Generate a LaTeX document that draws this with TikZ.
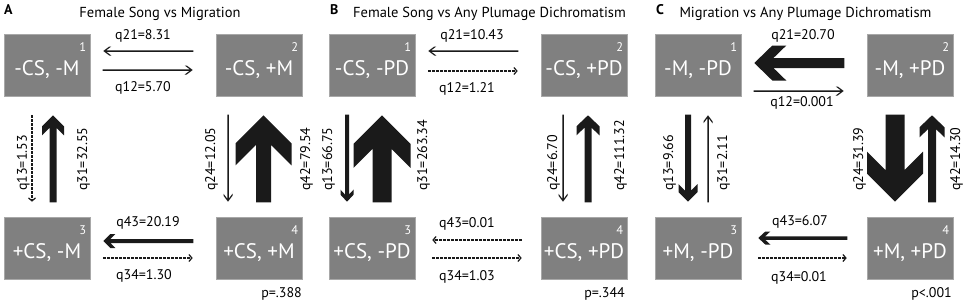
\documentclass[tikz,border=0pt]{standalone}
\usepackage{fontspec}
\setmainfont{PT Sans}
\usetikzlibrary{calc,arrows.meta}
\definecolor{boxgray}{HTML}{808080}
\definecolor{boxedge}{HTML}{A8A8A8}
\definecolor{ink}{HTML}{1A1A1A}
% #1 tip coordinate, #2 angle, #3 length, #4 shaft width, #5 head half-width, #6 head length, #7 barb thickness
\newcommand\farr[7]{\fill[ink,shift={(#1)},rotate=#2] (0,0) -- (-#6,#5) -- ({-#6-#7},#5) -- ({-#7-#6*#4/(2*#5)},{#4/2}) -- (-#3,{#4/2}) -- (-#3,{-#4/2}) -- ({-#7-#6*#4/(2*#5)},{-#4/2}) -- ({-#6-#7},-#5) -- (-#6,-#5) -- cycle;}
\tikzset{
  state/.style={draw=boxedge,line width=0.6pt,fill=boxgray,minimum width=86pt,minimum height=62pt,inner sep=0pt},
  stxt/.style={text=white,anchor=base,inner sep=0pt,font=\fontsize{21}{24}\selectfont},
  snum/.style={text=white,anchor=base east,inner sep=0pt,font=\fontsize{12.5}{14}\selectfont},
  lab/.style={anchor=base,inner sep=0pt,font=\fontsize{14}{16}\selectfont},
  vlab/.style={anchor=base west,rotate=90,inner sep=0pt,font=\fontsize{14}{16}\selectfont},
  ttl/.style={anchor=base,inner sep=0pt,font=\fontsize{14.5}{17}\selectfont},
  letter/.style={anchor=base west,inner sep=0pt,font=\fontsize{14}{16}\selectfont\bfseries},
  pval/.style={anchor=base east,inner sep=0pt,font=\fontsize{14}{16}\selectfont},
  dotarr/.style={draw=ink,line width=1.3pt,dash pattern=on 2.4pt off 1.6pt,-{Straight Barb[length=3pt,width=7pt,line width=1.2pt]}}
}
\begin{document}
\begin{tikzpicture}[x=1pt,y=-1pt]
\useasboundingbox[fill=white] (0,0) rectangle (964,301);
% ---------------- boxes ----------------
\foreach \p/\ox in {a/0,b/325,c/651}{
  \node[state] (\p1) at (47+\ox,65) {};
  \node[state] (\p2) at (259+\ox,65) {};
  \node[state] (\p3) at (47+\ox,248) {};
  \node[state] (\p4) at (259+\ox,248) {};
  \foreach \k in {1,2,3,4}{
    \node[snum] (\p\k n) at ($(\p\k.north east)+(-4,18)$) {\k};
  }
}
% box texts
\node[stxt] (a1t) at ($(a1.center)+(0,10.5)$) {-CS, -M};
\node[stxt] (a2t) at ($(a2.center)+(0,10.5)$) {-CS, +M};
\node[stxt] (a3t) at ($(a3.center)+(0,10.5)$) {+CS, -M};
\node[stxt] (a4t) at ($(a4.center)+(0,10.5)$) {+CS, +M};
\node[stxt] (b1t) at ($(b1.center)+(0,10.5)$) {-CS, -PD};
\node[stxt] (b2t) at ($(b2.center)+(0,10.5)$) {-CS, +PD};
\node[stxt] (b3t) at ($(b3.center)+(0,10.5)$) {+CS, -PD};
\node[stxt] (b4t) at ($(b4.center)+(0,10.5)$) {+CS, +PD};
\node[stxt] (c1t) at ($(c1.center)+(0,10.5)$) {-M, -PD};
\node[stxt] (c2t) at ($(c2.center)+(0,10.5)$) {-M, +PD};
\node[stxt] (c3t) at ($(c3.center)+(0,10.5)$) {+M, -PD};
\node[stxt] (c4t) at ($(c4.center)+(0,10.5)$) {+M, +PD};
% titles
\node[letter] (la) at (4,14) {A};
\node[letter] (lb) at (330,14) {B};
\node[letter] (lc) at (656,14) {C};
\node[ttl] (ta) at (160,17) {Female Song vs Migration};
\node[ttl] (tb) at (489.5,17) {Female Song vs Any Plumage Dichromatism};
\node[ttl] (tc) at (805.5,17) {Migration vs Any Plumage Dichromatism};
% ---------------- panel A ----------------
\coordinate (a21t) at ($(a1.east)+(13,-14)$);  \farr{a21t}{180}{90}{1.5}{4.5}{6}{2}
\coordinate (a12t) at ($(a2.west)+(-23,5)$);   \farr{a12t}{0}{90}{1.5}{4.5}{6}{2}
\coordinate (a13s) at ($(a1.south)+(-15,19)$);
\coordinate (a13t) at ($(a3.north)+(-15,-15)$); \draw[dotarr] (a13s) -- (a13t);
\coordinate (a31t) at ($(a1.south)+(6,19)$);   \farr{a31t}{90}{87}{7}{11}{11}{9}
\coordinate (a24t) at ($(a4.north)+(-31,-15)$); \farr{a24t}{-90}{87}{1.5}{4.5}{6}{2}
\coordinate (a42t) at ($(a2.south)+(4.5,19)$); \farr{a42t}{90}{87}{15}{28}{28}{22}
\coordinate (a43t) at ($(a3.east)+(13,-7)$);   \farr{a43t}{180}{90}{4}{7}{7}{5}
\coordinate (a34s) at ($(a3.east)+(13,10)$);
\coordinate (a34t) at ($(a4.west)+(-23,10)$);  \draw[dotarr] (a34s) -- (a34t);
\node[lab] (qa21) at (143,39) {q21=8.31};
\node[lab] (qa12) at (143,91) {q12=5.70};
\node[lab] (qa43) at (148,226) {q43=20.19};
\node[lab] (qa34) at (144,279) {q34=1.30};
\node[vlab] (qa13) at (27,191) {q13=1.53};
\node[vlab] (qa31) at (87,191) {q31=32.55};
\node[vlab] (qa24) at (215,191) {q24=12.05};
\node[vlab] (qa42) at (310,191) {q42=79.54};
\node[pval] (pa) at (302,297) {p=.388};
% ---------------- panel B ----------------
\coordinate (b21t) at ($(b1.east)+(13,-14)$);  \farr{b21t}{180}{90}{1.5}{4.5}{6}{2}
\coordinate (b12s) at ($(b1.east)+(13,6)$);
\coordinate (b12t) at ($(b2.west)+(-23,6)$);   \draw[dotarr] (b12s) -- (b12t);
\coordinate (b13t) at ($(b3.north)+(-25,-15)$); \farr{b13t}{-90}{87}{4}{6.5}{7}{5}
\coordinate (b31t) at ($(b1.south)+(10,19)$);  \farr{b31t}{90}{87}{19}{28.5}{28.5}{24}
\coordinate (b24t) at ($(b4.north)+(-21,-15)$); \farr{b24t}{-90}{87}{1.5}{4.5}{6}{2}
\coordinate (b42t) at ($(b2.south)+(4,19)$);   \farr{b42t}{90}{87}{7}{11.5}{11}{9}
\coordinate (b43s) at ($(b4.west)+(-19,-8)$);
\coordinate (b43t) at ($(b3.east)+(17,-8)$);   \draw[dotarr] (b43s) -- (b43t);
\coordinate (b34s) at ($(b3.east)+(17,10)$);
\coordinate (b34t) at ($(b4.west)+(-19,10)$);  \draw[dotarr] (b34s) -- (b34t);
\node[lab] (qb21) at (472,39) {q21=10.43};
\node[lab] (qb12) at (467,92) {q12=1.21};
\node[lab] (qb43) at (467,227) {q43=0.01};
\node[lab] (qb34) at (467,280) {q34=1.03};
\node[vlab] (qb13) at (332,191) {q13=66.75};
\node[vlab] (qb31) at (427,191) {q31=263.34};
\node[vlab] (qb24) at (557,191) {q24=6.70};
\node[vlab] (qb42) at (624,191) {q42=111.32};
\node[pval] (pb) at (625,297) {p=.344};
% ---------------- panel C ----------------
\coordinate (c21t) at ($(c1.east)+(13,-2)$);   \farr{c21t}{180}{90}{10}{17.5}{18}{14}
\coordinate (c12t) at ($(c2.west)+(-23,26)$);  \farr{c12t}{0}{90}{1.5}{4.5}{6}{2}
\coordinate (c13t) at ($(c3.north)+(-10,-15)$); \farr{c13t}{-90}{87}{6}{9.5}{9.5}{8}
\coordinate (c31t) at ($(c1.south)+(10,19)$);  \farr{c31t}{90}{87}{1.5}{4.5}{6}{2}
\coordinate (c24t) at ($(c4.north)+(-15,-15)$); \farr{c24t}{-90}{87}{19}{28}{28}{22}
\coordinate (c42t) at ($(c2.south)+(22,19)$);  \farr{c42t}{90}{87}{8}{12.5}{12}{10}
\coordinate (c43t) at ($(c3.east)+(17,-10)$);  \farr{c43t}{180}{89}{3.5}{6.5}{7}{5}
\coordinate (c34s) at ($(c3.east)+(17,10)$);
\coordinate (c34t) at ($(c4.west)+(-20,10)$);  \draw[dotarr] (c34s) -- (c34t);
\node[lab] (qc21) at (803,39) {q21=20.70};
\node[lab] (qc12) at (802,106) {q12=0.001};
\node[lab] (qc43) at (800,225) {q43=6.07};
\node[lab] (qc34) at (799,281) {q34=0.01};
\node[vlab] (qc13) at (673,191) {q13=9.66};
\node[vlab] (qc31) at (727,191) {q31=2.11};
\node[vlab] (qc24) at (863,191) {q24=31.39};
\node[vlab] (qc42) at (960,191) {q42=14.30};
\node[pval] (pc) at (952,297) {p<.001};
\end{tikzpicture}
\end{document}
